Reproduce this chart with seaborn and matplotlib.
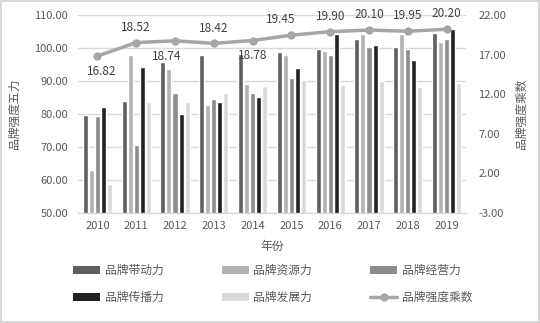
import numpy as np
import pandas as pd
import matplotlib
matplotlib.use("Agg")
import matplotlib.pyplot as plt
import seaborn as sns
from matplotlib.patches import Patch
from matplotlib.lines import Line2D

years = ["2010", "2011", "2012", "2013", "2014", "2015", "2016", "2017", "2018", "2019"]
drive = [79.8, 83.8, 95.9, 97.9, 98.1, 98.8, 99.7, 102.7, 100.3, 104.5]
resource = [63.1, 97.9, 93.7, 82.7, 89.1, 97.9, 99.1, 104.2, 104.2, 101.9]
operation = [79.5, 70.6, 86.5, 84.5, 86.5, 90.9, 97.9, 100.3, 99.7, 102.7]
spread = [82.2, 94.3, 80.0, 83.7, 85.2, 93.9, 104.2, 101.0, 96.4, 105.8]
develop = [58.9, 83.7, 83.7, 86.5, 88.5, 90.3, 88.8, 90.0, 88.2, 89.4]
multiplier = [16.82, 18.52, 18.74, 18.42, 18.78, 19.45, 19.90, 20.10, 19.95, 20.20]

series_names = ["品牌带动力", "品牌资源力", "品牌经营力", "品牌传播力", "品牌发展力"]
line_name = "品牌强度乘数"
bar_colors = ["#5f5f5f", "#b2b2b2", "#8c8c8c", "#222222", "#d9d9d9"]
line_color = "#a6a6a6"
text_color = "#595959"
grid_color = "#d9d9d9"

df = pd.DataFrame({
    "年份": np.repeat(years, 5),
    "指标": series_names * len(years),
    "值": np.ravel(np.column_stack([drive, resource, operation, spread, develop])),
})

sns.set_theme(style="white")
plt.rcParams["font.family"] = ["Noto Sans CJK SC", "DejaVu Sans"]
plt.rcParams["axes.unicode_minus"] = False

fig = plt.figure(figsize=(5.4, 3.23), dpi=100)
fig.patch.set_facecolor("white")
fig.patch.set_edgecolor("#d9d9d9")
fig.patch.set_linewidth(1.5)

ax = fig.add_axes([78 / 540, 1 - 213 / 323, 388 / 540, 198 / 323])
sns.barplot(data=df, x="年份", y="值", hue="指标", hue_order=series_names,
            palette=bar_colors, width=0.78, gap=0.17, ax=ax,
            legend=False, errorbar=None, saturation=1)

ax.set_ylim(50, 110)
ax.set_yticks(np.arange(50, 111, 10))
ax.set_yticklabels([f"{v:.2f}" for v in np.arange(50, 111, 10)])
ax.set_xlim(-0.5, len(years) - 0.5)
ax.yaxis.grid(True, color=grid_color, lw=1)
ax.set_axisbelow(True)
for side in ["top", "right", "left"]:
    ax.spines[side].set_visible(False)
ax.spines["bottom"].set_color(grid_color)
ax.spines["bottom"].set_linewidth(1)
ax.tick_params(axis="both", length=0, labelsize=8, colors=text_color)
ax.tick_params(axis="y", pad=7)
ax.tick_params(axis="x", pad=6)
ax.set_xlabel("年份", fontsize=8.5, color=text_color, labelpad=6)
ax.set_ylabel("品牌强度五力", fontsize=8.5, color=text_color, labelpad=10)

ax2 = ax.twinx()
xpos = np.arange(len(years))
sns.lineplot(x=xpos, y=multiplier, ax=ax2, color=line_color, lw=2.5,
             marker="o", markersize=6, markeredgewidth=0, markerfacecolor=line_color)
ax2.set_ylim(-3, 22)
ax2.set_yticks(np.arange(-3, 23, 5))
ax2.set_yticklabels([f"{v:.2f}" for v in np.arange(-3, 23, 5)])
for side in ["top", "right", "left", "bottom"]:
    ax2.spines[side].set_visible(False)
ax2.tick_params(axis="y", length=0, labelsize=8, colors=text_color, pad=9)
ax2.set_ylabel("品牌强度乘数", fontsize=8.5, color=text_color, labelpad=6)
ax2.set_xlabel("")

# value labels for the multiplier line (below for a few early points)
placements = ["below", "above", "below", "above", "below", "above", "above", "above", "above", "above"]
for x, v, p in zip(xpos, multiplier, placements):
    dy = -11 if p == "below" else 11
    dx = 3 if x == 0 else (-6 if x == 2 else (-8 if x == 5 else 0))
    ax2.annotate(f"{v:.2f}", (x, v), xytext=(dx, dy), textcoords="offset points",
                 ha="center", va="center", fontsize=8.5, color="#404040")

handles = [Patch(facecolor=c, edgecolor="none") for c in bar_colors]
line_handle = Line2D([], [], color=line_color, lw=2.5, marker="o", markersize=6,
                     markeredgewidth=0)
all_handles = handles + [line_handle]
all_labels = series_names + [line_name]
order = [0, 3, 1, 4, 2, 5]
fig.legend([all_handles[i] for i in order], [all_labels[i] for i in order],
           ncol=3, loc="center", bbox_to_anchor=(0.505, 1 - 284 / 323),
           frameon=False, fontsize=8.5, labelcolor=text_color,
           handlelength=2.3, handleheight=0.6, handletextpad=0.4,
           columnspacing=4.9, labelspacing=1.2)

fig.savefig("out.png", dpi=100, facecolor="white", edgecolor=fig.patch.get_edgecolor())
